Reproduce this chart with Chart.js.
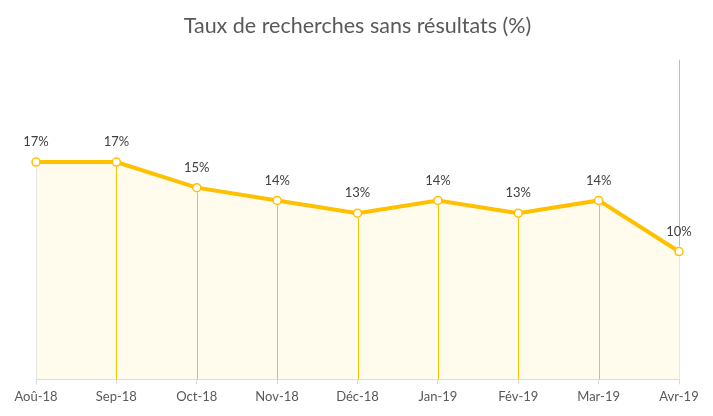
<!DOCTYPE html>
<html><head><meta charset="utf-8">
<script src="https://cdn.jsdelivr.net/npm/chart.js@4"></script>
<style>html,body{margin:0;padding:0;background:#fff}#w{width:713px;height:416px}</style>
</head><body><div id="w"><canvas id="c"></canvas></div>
<script>
const categories = ["Aoû-18","Sep-18","Oct-18","Nov-18","Déc-18","Jan-19","Fév-19","Mar-19","Avr-19"];
const rates = [17, 17, 15, 14, 13, 14, 13, 14, 10];
const yMin = 0, yMax = 25;
const YELLOW = '#FFC000';

const dropLines = {
  id: 'dropLines',
  afterDatasetsDraw(chart) {
    const {ctx, chartArea} = chart;
    const meta = chart.getDatasetMeta(0);
    ctx.save();
    ctx.lineWidth = 1;
    meta.data.forEach((pt, i) => {
      const x = Math.round(pt.x) + 0.5;
      const last = i === meta.data.length - 1;
      ctx.strokeStyle = (i === 0 || last) ? '#E6E6E6' : YELLOW;
      ctx.beginPath(); ctx.moveTo(x, pt.y + 5); ctx.lineTo(x, chartArea.bottom); ctx.stroke();
      if (last) {
        ctx.strokeStyle = YELLOW;
        ctx.beginPath(); ctx.moveTo(x, chartArea.top); ctx.lineTo(x, pt.y - 5); ctx.stroke();
      }
    });
    ctx.font = '13px Lato, "Open Sans", sans-serif';
    ctx.fillStyle = '#404040';
    ctx.textAlign = 'center';
    ctx.textBaseline = 'middle';
    meta.data.forEach((pt, i) => {
      ctx.fillText(Math.round(rates[i]) + '%', pt.x, pt.y - 20);
    });
    ctx.restore();
  }
};

new Chart(document.getElementById('c'), {
  type: 'line',
  data: {
    labels: categories,
    datasets: [{
      data: rates,
      borderColor: YELLOW,
      borderWidth: 4,
      backgroundColor: '#FFFCEE',
      fill: 'origin',
      tension: 0,
      pointRadius: 4,
      pointBorderWidth: 1.5,
      pointBackgroundColor: '#fff',
      pointBorderColor: YELLOW
    }]
  },
  options: {
    responsive: true,
    maintainAspectRatio: false,
    animation: false,
    layout: { padding: { left: 36, right: 34, top: 0, bottom: 6 } },
    plugins: {
      legend: { display: false },
      tooltip: { enabled: false },
      title: {
        display: true,
        text: 'Taux de recherches sans résultats (%)',
        color: '#595959',
        font: { family: 'Lato, "Open Sans", sans-serif', size: 21.5, weight: 'normal' },
        padding: { top: 13, bottom: 21 }
      }
    },
    scales: {
      x: {
        offset: false,
        grid: { display: true, drawOnChartArea: false, drawTicks: true, tickLength: 5, color: '#D9D9D9' },
        border: { display: true, color: '#D9D9D9' },
        ticks: { color: '#595959', font: { family: 'Lato, "Open Sans", sans-serif', size: 13 }, padding: 5, maxRotation: 0, autoSkip: false }
      },
      y: {
        display: false,
        min: yMin, max: yMax
      }
    }
  },
  plugins: [dropLines]
});
</script></body></html>
